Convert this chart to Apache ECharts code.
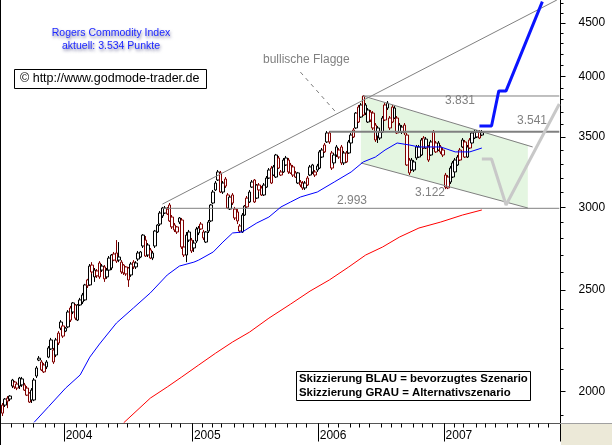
<!DOCTYPE html>
<html>
<head>
<meta charset="utf-8">
<script src="https://cdn.jsdelivr.net/npm/echarts@6/dist/echarts.min.js"></script>
<style>
  html, body { margin: 0; padding: 0; background: #fff; }
  #chart { width: 612px; height: 445px; }
</style>
</head>
<body>
<div id="chart"></div>
<script>
// Wochenkerzen ab 2003-07-04
const firstWeek = '2003-07-04'
const weekCount = 231

const open = [1942,1942,1972,1981,2052,2043,2034,2061,2057,2030,
  2016,1994,2007,1964,2107,2153,2135,2121,2112,2202,
  2241,2192,2168,2275,2331,2311,2300,2306,2404,2383,
  2420,2341,2447,2474,2447,2557,2529,2642,2574,2608,
  2654,2636,2631,2613,2613,2625,2707,2713,2689,2659,
  2642,2631,2625,2585,2659,2631,2713,2689,2822,2791,
  2761,2731,2683,2847,2841,2962,2995,2962,2988,3015,
  2936,2885,2873,2930,2917,2749,2822,2841,2791,2773,
  2860,2835,2891,2841,2779,2904,3015,3028,3164,3185,
  3235,3102,3192,3082,2988,3082,2988,2969,2879,2841,
  2949,3061,3102,3136,3185,3061,3150,3130,3150,3199,
  3199,3270,3278,3206,3270,3242,3328,3343,3328,3292,
  3278,3235,3164,3171,3164,3130,3199,3220,3242,3242,
  3285,3388,3350,3440,3463,3532,3380,3365,3365,3402,
  3425,3307,3380,3463,3455,3555,3571,3739,3658,3831,
  3756,3618,3698,3690,3594,3571,3493,3539,3756,3772,
  3571,3739,3650,3650,3594,3578,3594,3516,3328,3328,
  3314,3343,3350,3365,3493,3417,3328,3365,3539,3455,
  3455,3425,3402,3220,3206,3270,3307,3328,3292,3402,
  3425,3463,3350,3478,3532,3539,3539,3539,3516]
const close = [1908,1968,1959,1968,2025,2021,2016,2025,2030,2007,
  1985,1955,1964,2052,2070,2144,2098,2089,2135,2158,
  2197,2135,2241,2226,2300,2260,2285,2383,2341,2431,
  2351,2420,2420,2436,2529,2524,2636,2602,2613,2580,
  2574,2613,2563,2574,2683,2701,2671,2665,2671,2602,
  2597,2591,2557,2648,2631,2654,2677,2719,2755,2695,
  2701,2683,2713,2755,2885,2891,2943,2995,2956,2911,
  2873,2854,2841,2904,2749,2701,2701,2791,2725,2743,
  2785,2866,2860,2804,2841,2847,2911,3102,3116,3242,
  3102,3164,3143,2995,3068,3028,2930,2911,2847,2949,
  3008,3002,3035,3171,3035,3150,3116,3082,3082,3136,
  3256,3164,3220,3365,3343,3220,3242,3292,3242,3235,
  3220,3206,3235,3150,3130,3164,3150,3278,3292,3220,
  3256,3270,3402,3388,3532,3463,3270,3307,3425,3350,
  3307,3380,3314,3380,3516,3501,3690,3618,3756,3674,
  3690,3715,3634,3571,3478,3508,3539,3650,3634,3731,
  3650,3618,3731,3532,3539,3539,3532,3292,3235,3256,
  3256,3425,3425,3478,3417,3485,3425,3463,3417,3388,
  3402,3388,3365,3136,3130,3171,3206,3242,3350,3328,
  3478,3350,3425,3417,3455,3493,3501,3493,3534]
const low = [1896,1934,1929,1959,2016,2012,2007,2012,2021,2003,
  1981,1951,1951,1959,2061,2139,2093,2084,2102,2153,
  2192,2126,2158,2216,2290,2251,2280,2300,2331,2372,
  2341,2336,2415,2425,2442,2512,2524,2591,2546,2568,
  2563,2602,2546,2563,2608,2613,2665,2654,2659,2591,
  2585,2580,2518,2574,2619,2619,2665,2683,2743,2689,
  2689,2677,2671,2743,2835,2879,2930,2956,2949,2904,
  2860,2841,2829,2891,2737,2689,2659,2779,2713,2719,
  2773,2822,2854,2791,2773,2835,2904,3021,3109,3178,
  3095,3089,3130,2988,2982,3015,2917,2891,2835,2835,
  2943,2995,3028,3130,3028,3055,3102,3075,3075,3130,
  3192,3157,3213,3199,3263,3213,3235,3285,3228,3228,
  3206,3199,3157,3136,3116,3116,3143,3213,3228,3206,
  3242,3263,3343,3380,3455,3448,3256,3292,3350,3336,
  3292,3292,3307,3373,3448,3493,3563,3610,3650,3666,
  3674,3610,3618,3555,3463,3455,3478,3532,3626,3715,
  3555,3610,3642,3524,3532,3524,3516,3285,3220,3249,
  3242,3328,3343,3358,3410,3410,3314,3358,3410,3380,
  3395,3373,3350,3122,3122,3157,3199,3235,3285,3321,
  3417,3343,3343,3410,3448,3485,3493,3485,3508]
const high = [1951,1972,1981,1985,2057,2048,2043,2066,2066,2039,
  2025,1998,2016,2061,2116,2163,2144,2130,2144,2211,
  2251,2202,2251,2285,2341,2316,2306,2393,2415,2436,
  2425,2425,2458,2485,2535,2563,2648,2659,2625,2619,
  2665,2648,2642,2625,2695,2707,2719,2791,2779,2671,
  2648,2636,2631,2659,2671,2665,2725,2725,2828,2816,
  2773,2743,2725,2854,2891,2975,3002,3008,3002,3028,
  2949,2898,2879,2936,2930,2761,2841,2854,2804,2791,
  2873,2879,2904,2854,2847,2917,3021,3116,3178,3256,
  3249,3178,3206,3095,3075,3095,3002,2988,2891,2962,
  3015,3075,3116,3185,3192,3157,3164,3143,3164,3213,
  3270,3285,3292,3373,3358,3256,3343,3358,3343,3307,
  3292,3249,3242,3185,3178,3178,3213,3292,3300,3256,
  3300,3402,3417,3455,3547,3547,3395,3380,3440,3417,
  3440,3395,3395,3478,3532,3571,3698,3756,3772,3839,
  3772,3731,3715,3706,3610,3586,3555,3666,3772,3789,
  3666,3756,3747,3666,3610,3594,3610,3532,3343,3343,
  3328,3440,3440,3493,3508,3501,3440,3478,3555,3470,
  3470,3440,3417,3235,3220,3285,3321,3343,3365,3417,
  3493,3478,3440,3493,3547,3555,3555,3555,3555]

// gleitende Durchschnitte (Wochenindex -> Wert)
const blueMaWeek = [13,19,26,32,36,40,47,54,61,68,73,79,81,87,91,95,99,105,110,115,119,123,130,137,144,149,154,158,163,168,172,181,187,193,198]
const blueMaValue = [1870,1936,2016,2075,2158,2221,2326,2404,2485,2585,2636,2659,2671,2719,2779,2835,2841,2898,2936,3002,3035,3068,3102,3171,3242,3314,3350,3402,3455,3440,3425,3425,3388,3388,3417]
const redMaWeek = [50,61,68,74,81,88,95,102,110,119,127,135,143,150,157,164,172,181,190,198]
const redMaValue = [1868,1972,2021,2066,2121,2177,2231,2280,2351,2425,2495,2557,2631,2701,2749,2810,2866,2904,2949,2982]

// Marken
const levels = [2993, 3541, 3831]
const levelStart = [66, 135, 149]

// Flagge
const flagWeeks = [148, 217, 217, 148]
const flagValues = [3831, 3440, 2995, 3307]
const flagTopWeeks = [149, 219]
const flagTopValues = [3831, 3425]
const flagLowWeeks = [148, 217]
const flagLowValues = [3307, 2995]
const trendWeeks = [66, 229]
const trendValues = [3021, 4731]
const pointerWeeks = [123, 138]
const pointerValues = [4038, 3690]

// Szenarien
const blueWeeks = [197, 202, 205, 208, 223]
const blueValues = [3586, 3586, 3874, 3874, 4714]
const grayWeeks = [198, 202, 208, 230]
const grayValues = [3336, 3336, 3015, 3764]

const majorTicks = [2000, 2500, 3000, 3500, 4000, 4500]
const minorTicks = [1900,2000,2100,2200,2300,2400,2500,2600,2700,2800,2900,3000,3100,3200,3300,3400,3500,3600,3700,3800,3900,4000,4100,4200,4300,4400,4500,4600,4700]
const yMin = 1865
const yMax = 4731

const weeks = []
const t0 = new Date(firstWeek + 'T00:00:00Z').getTime()
for (let i = 0; i < weekCount; i++) {
  weeks.push(new Date(t0 + i * 7 * 864e5).toISOString().slice(0, 10))
}
const monthTick = (idx) => idx > 0 && weeks[idx].slice(5, 7) !== weeks[idx - 1].slice(5, 7)
const yearTick = (idx) => idx > 0 && weeks[idx].slice(0, 4) !== weeks[idx - 1].slice(0, 4)

const pairs = (xs, ys) => xs.map((x, i) => [x, ys[i]])

const candles = open.map((o, i) => {
  const c = close[i]
  const prev = i > 0 ? close[i - 1] : o
  const col = c >= prev ? '#000000' : '#800000'
  return {
    value: [o, c, low[i], high[i]],
    itemStyle: { color: '#ffffff', color0: col, borderColor: col, borderColor0: col }
  }
})

const lineSeries = (data, color, width, extra) => Object.assign({
  type: 'line',
  data: data,
  symbol: 'none',
  silent: true,
  lineStyle: { color: color, width: width },
  z: 4
}, extra || {})

const chart = echarts.init(document.getElementById('chart'))

const gray = '#808080'
const labelFont = { fontFamily: 'Liberation Sans', fontSize: 12, fill: gray }

chart.setOption({
  animation: false,
  backgroundColor: '#ffffff',
  grid: { left: 1.5, right: 51.5, top: 0, bottom: 21.5 },
  xAxis: [
    {
      type: 'category',
      data: weeks,
      boundaryGap: true,
      axisLine: { show: true, onZero: false, lineStyle: { color: '#555555', width: 1 } },
      axisTick: { show: true, length: 4, interval: monthTick, lineStyle: { color: '#000', width: 1 } },
      axisLabel: { show: false },
      splitLine: { show: false }
    },
    {
      type: 'category',
      data: weeks,
      position: 'bottom',
      boundaryGap: true,
      axisLine: { show: false, onZero: false },
      axisTick: { show: true, length: 18, interval: yearTick, lineStyle: { color: '#000', width: 1 } },
      axisLabel: {
        show: true,
        interval: yearTick,
        formatter: (v) => v.slice(0, 4),
        align: 'left',
        margin: 6,
        color: '#000',
        fontFamily: 'Liberation Sans',
        fontSize: 12
      },
      splitLine: { show: false }
    }
  ],
  yAxis: [
    {
      type: 'log',
      position: 'right',
      min: yMin,
      max: yMax,
      axisLine: { show: true, lineStyle: { color: '#000', width: 1 } },
      axisTick: { show: true, length: 3, customValues: minorTicks, lineStyle: { color: '#000', width: 1 } },
      axisLabel: { show: false },
      splitLine: { show: false }
    },
    {
      type: 'log',
      position: 'right',
      min: yMin,
      max: yMax,
      axisLine: { show: false },
      axisTick: { show: true, length: 5, customValues: majorTicks, lineStyle: { color: '#000', width: 1 } },
      axisLabel: {
        show: true,
        customValues: majorTicks,
        margin: 18,
        color: '#000',
        fontFamily: 'Liberation Sans',
        fontSize: 12,
        formatter: (v) => String(Math.round(v))
      },
      splitLine: { show: false }
    }
  ],
  series: [
    {
      type: 'custom',
      silent: true,
      z: 1,
      data: [0],
      renderItem: (params, api) => ({
        type: 'polygon',
        shape: { points: pairs(flagWeeks, flagValues).map(p => api.coord(p)) },
        style: { fill: '#e4f6e1' }
      })
    },
    lineSeries(pairs([levelStart[0], weekCount - 1], [levels[0], levels[0]]), gray, 1),
    lineSeries(pairs([levelStart[2], weekCount - 1], [levels[2], levels[2]]), gray, 1),
    lineSeries(pairs(flagTopWeeks, flagTopValues), gray, 1),
    lineSeries(pairs(flagLowWeeks, flagLowValues), gray, 1),
    lineSeries(pairs(trendWeeks, trendValues), gray, 1),
    lineSeries(pairs(pointerWeeks, pointerValues), gray, 1, { lineStyle: { color: gray, width: 1, type: [4, 4] } }),
    lineSeries(pairs(redMaWeek, redMaValue), '#ff0000', 1),
    lineSeries(pairs(blueMaWeek, blueMaValue), '#0000ff', 1),
    {
      type: 'candlestick',
      data: candles,
      barWidth: 3,
      silent: true,
      z: 3
    },
    lineSeries(pairs([levelStart[1], weekCount - 1], [levels[1], levels[1]]), gray, 2, { z: 5 }),
    lineSeries(pairs(grayWeeks, grayValues), '#c8c8c8', 3, { z: 6 }),
    lineSeries(pairs(blueWeeks, blueValues), '#0a14ff', 3, { z: 7 })
  ],
  graphic: [
    { type: 'line', shape: { x1: 0.5, y1: 0, x2: 0.5, y2: 445 }, style: { stroke: '#000', lineWidth: 1 }, z: 100 },
    { type: 'rect', shape: { x: 561, y: 424, width: 51, height: 21 }, style: { fill: '#ece9d8' }, z: 90 },
    { type: 'line', shape: { x1: 560, y1: 423.5, x2: 612, y2: 423.5 }, style: { stroke: '#a0a0a0', lineWidth: 1 }, z: 91 },
    {
      type: 'text', z: 100,
      style: {
        text: 'Rogers Commodity Index\naktuell: 3.534 Punkte',
        x: 111, y: 27, align: 'center', lineHeight: 13,
        fontFamily: 'Liberation Sans', fontSize: 10.5, fill: '#1e28ff',
        textShadowColor: 'rgba(20,20,90,0.55)', textShadowBlur: 3, textShadowOffsetX: 1, textShadowOffsetY: 2
      }
    },
    { type: 'rect', shape: { x: 14.5, y: 69.5, width: 192, height: 19 }, style: { fill: '#fff', stroke: '#000', lineWidth: 1 }, z: 100 },
    {
      type: 'text', z: 101,
      style: { text: '\u00a9 http://www.godmode-trader.de', x: 20, y: 72, fontFamily: 'Liberation Sans', fontSize: 12.5, fill: '#000' }
    },
    { type: 'rect', shape: { x: 296.5, y: 371.5, width: 234, height: 29 }, style: { fill: '#fff', stroke: '#000', lineWidth: 1 }, z: 100 },
    {
      type: 'text', z: 101,
      style: {
        text: 'Skizzierung BLAU = bevorzugtes Szenario\nSkizzierung GRAU = Alternativszenario',
        x: 299, y: 372, lineHeight: 14,
        fontFamily: 'Liberation Sans', fontWeight: 'bold', fontSize: 11.4, fill: '#000'
      }
    },
    { type: 'text', z: 100, style: Object.assign({ text: 'bullische Flagge', x: 263, y: 54 }, labelFont) },
    { type: 'text', z: 100, style: Object.assign({ text: '2.993', x: 337, y: 195 }, labelFont) },
    { type: 'text', z: 100, style: Object.assign({ text: '3.541', x: 517, y: 115 }, labelFont) },
    { type: 'text', z: 100, style: Object.assign({ text: '3.831', x: 445, y: 95 }, labelFont) },
    { type: 'text', z: 100, style: Object.assign({ text: '3.122', x: 415, y: 187 }, labelFont) }
  ]
})
</script>
</body>
</html>
